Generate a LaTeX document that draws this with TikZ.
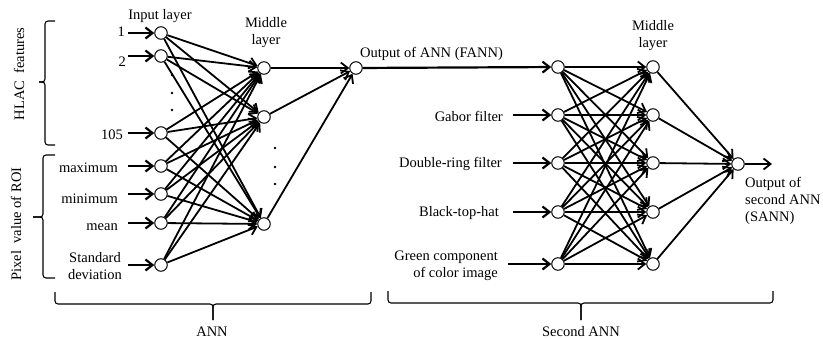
\documentclass[tikz,border=0pt]{standalone}
\usepackage{fontspec}
\setmainfont{Liberation Serif}
\usetikzlibrary{arrows.meta}
\begin{document}
\begin{tikzpicture}[x=1pt,y=-1pt,
  neuron/.style={circle,draw,line width=1pt,minimum size=12.5pt,inner sep=0pt,fill=white},
  lbl/.style={font=\fontsize{14.5}{17}\selectfont,inner sep=0pt},
  link/.style={line width=1.8pt,-{Straight Barb[length=7pt,width=11pt,line width=1.8pt]}},
  feed/.style={line width=2.2pt,-{Straight Barb[length=7pt,width=11pt,line width=2.2pt]}},
  bracket/.style={line width=1.1pt,rounded corners=3pt},
  dot/.style={circle,fill,inner sep=0pt,minimum size=2.8pt}]
\useasboundingbox (0,0) rectangle (823,338);

% ---------- first network ----------
\foreach \n/\y in {a1/33,a2/56,a3/133,a4/166,a5/194,a6/223,a7/265}
  \node[neuron] (\n) at (161,\y) {};
\foreach \n/\y in {m1/68,m2/117,m3/224}
  \node[neuron] (\n) at (264,\y) {};
\node[neuron] (fann) at (356,68) {};

\foreach \y in {75,93,110} \node[dot] at (172,\y) {};
\foreach \y in {148,167,184} \node[dot] at (275,\y) {};

\foreach \i in {a1,a2,a3,a4,a5,a6,a7}
  \foreach \j in {m1,m2,m3}
    \draw[link] (\i) -- (\j);
\foreach \j in {m1,m2,m3}
  \draw[link] (\j) -- (fann);

% inputs of the first network
\foreach \n/\y in {a1/33,a2/56,a3/133,a4/166,a5/194,a6/223,a7/265}
  \coordinate (s\n) at (128,\y);
\foreach \n in {a1,a2,a3,a4,a5,a6,a7}
  \draw[feed] (s\n) -- (\n);

\node[lbl] (inl) at (160,16) {Input layer};
\node[lbl,anchor=east] (t1) at (125,32) {1};
\node[lbl,anchor=east] (t2) at (126,62) {2};
\node[lbl,anchor=east] (t3) at (123,135) {105};
\node[lbl,anchor=east] (t4) at (118,168) {maximum};
\node[lbl,anchor=east] (t5) at (118,199) {minimum};
\node[lbl,anchor=east] (t6) at (118,227) {mean};
\node[lbl,align=center] (t7) at (95,266) {Standard\\deviation};
\node[lbl,align=center] (ml1) at (266,33) {Middle\\layer};

% ---------- second network ----------
\foreach \n/\y in {b1/67,b2/115,b3/163,b4/212,b5/264}
  \node[neuron] (\n) at (558,\y) {};
\foreach \n/\y in {h1/67,h2/115,h3/163,h4/212,h5/264}
  \node[neuron] (\n) at (653,\y) {};
\node[neuron] (sann) at (738,164) {};
\coordinate (outend) at (772,164);

\foreach \i in {b1,b2,b3,b4,b5}
  \foreach \j in {h1,h2,h3,h4,h5}
    \draw[link] (\i) -- (\j);
\foreach \j in {h1,h2,h3,h4,h5}
  \draw[link] (\j) -- (sann);
\draw[link] (sann) -- (outend);
\draw[feed] (fann) -- (b1);

\foreach \n/\y/\x in {b2/115/513,b3/163/513,b4/212/513,b5/264/508}
  \coordinate (s\n) at (\x,\y);
\foreach \n in {b2,b3,b4,b5}
  \draw[feed] (s\n) -- (\n);

\node[lbl,anchor=west] (fl) at (360,54) {Output of ANN (FANN)};
\node[lbl,anchor=east] (g1) at (503,116) {Gabor filter};
\node[lbl,anchor=east] (g2) at (502,164) {Double-ring filter};
\node[lbl,anchor=east] (g3) at (499,213) {Black-top-hat};
\node[lbl,anchor=east,align=right] (g4) at (498,266) {Green component\\of color image};
\node[lbl,align=center] (ml2) at (653,36) {Middle\\layer};
\node[lbl,anchor=west,align=left] (ol) at (745,201) {Output of\\second ANN\\(SANN)};

% ---------- brackets ----------
\draw[bracket] (55,21) -- (45,21) -- (45,82) -- (39,82);
\draw[bracket] (55,145) -- (45,145) -- (45,82) -- (39,82);
\node[lbl,rotate=90] (hl) at (19,74) {HLAC\ \ features};

\draw[bracket] (55,155) -- (43,155) -- (43,217) -- (33,217);
\draw[bracket] (55,278) -- (43,278) -- (43,217) -- (33,217);
\node[lbl,rotate=90] (pl) at (16,224) {Pixel\ \ value of ROI};

\draw[bracket] (55,292) -- (55,304) -- (213,304) -- (213,320);
\draw[bracket] (371,292) -- (371,304) -- (213,304) -- (213,320);
\node[lbl,anchor=base] (annl) at (212,336) {ANN};

\draw[bracket] (388,291) -- (388,303) -- (581,303) -- (581,320);
\draw[bracket] (773,291) -- (773,303) -- (581,303) -- (581,320);
\node[lbl,anchor=base] (sannl) at (581,336) {Second ANN};
\end{tikzpicture}
\end{document}
